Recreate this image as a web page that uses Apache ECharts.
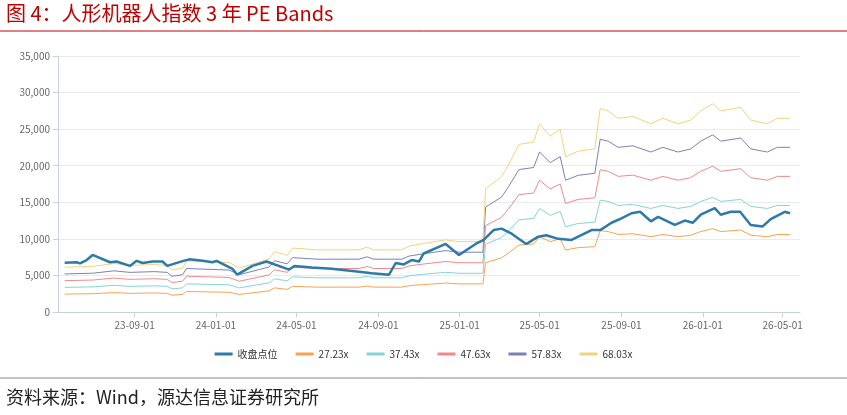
<!DOCTYPE html>
<html>
<head>
<meta charset="utf-8">
<script src="https://cdn.jsdelivr.net/npm/echarts@6/dist/echarts.min.js"></script>
<style>
  body { margin: 0; background: #fff; }
  #main { width: 847px; height: 415px; }
</style>
</head>
<body>
<div id="main"></div>
<script>
// 收盘点位 (date, value)
var closeData = [
  ['2023-05-19', 6740], ['2023-06-06', 6800], ['2023-06-11', 6650], ['2023-06-21', 7100],
  ['2023-06-30', 7800], ['2023-07-26', 6800], ['2023-08-05', 6900], ['2023-08-25', 6300],
  ['2023-09-04', 7000], ['2023-09-13', 6700], ['2023-09-28', 6900], ['2023-10-13', 6900],
  ['2023-10-20', 6300], ['2023-11-12', 6950], ['2023-11-22', 7200], ['2023-12-12', 7000],
  ['2023-12-27', 6800], ['2024-01-02', 7000], ['2024-01-26', 5900], ['2024-02-02', 5100],
  ['2024-02-25', 6300], ['2024-03-17', 6900], ['2024-04-20', 5800], ['2024-04-28', 6300],
  ['2024-05-24', 6100], ['2024-06-23', 5900], ['2024-08-03', 5500], ['2024-08-22', 5300],
  ['2024-09-17', 5100], ['2024-09-27', 6700], ['2024-10-09', 6500], ['2024-10-21', 7100],
  ['2024-11-01', 6900], ['2024-11-08', 8000], ['2024-12-11', 9300], ['2024-12-31', 7800],
  ['2025-01-25', 9300], ['2025-02-06', 9850], ['2025-02-21', 11200], ['2025-03-05', 11400],
  ['2025-03-20', 10700], ['2025-04-11', 9300], ['2025-04-29', 10300], ['2025-05-11', 10500],
  ['2025-05-29', 10000], ['2025-06-18', 9850], ['2025-06-28', 10300], ['2025-07-18', 11200],
  ['2025-07-31', 11200], ['2025-08-17', 12200], ['2025-09-01', 12800], ['2025-09-16', 13500],
  ['2025-09-29', 13700], ['2025-10-15', 12400], ['2025-10-26', 13000], ['2025-11-20', 11900],
  ['2025-12-05', 12500], ['2025-12-17', 12200], ['2025-12-29', 13300], ['2026-01-19', 14200],
  ['2026-01-28', 13300], ['2026-02-12', 13700], ['2026-02-26', 13700], ['2026-03-14', 11900],
  ['2026-04-01', 11700], ['2026-04-13', 12700], ['2026-05-04', 13700], ['2026-05-12', 13500]
];

// lowest band (27.23x); other bands share its EPS
var baseBand = [
  ['2023-05-19', 2450], ['2023-07-01', 2500], ['2023-08-01', 2650], ['2023-08-25', 2550],
  ['2023-10-01', 2600], ['2023-10-20', 2550], ['2023-10-27', 2300], ['2023-11-12', 2400],
  ['2023-11-18', 2800], ['2024-01-21', 2700], ['2024-02-05', 2400], ['2024-03-21', 2900],
  ['2024-03-29', 3300], ['2024-04-17', 3100], ['2024-04-25', 3500], ['2024-06-01', 3400],
  ['2024-08-03', 3400], ['2024-08-15', 3550], ['2024-08-25', 3400], ['2024-10-06', 3400],
  ['2024-10-17', 3600], ['2024-11-08', 3750], ['2024-12-11', 3950], ['2024-12-31', 3850],
  ['2025-02-05', 3850], ['2025-02-09', 6750], ['2025-03-05', 7400], ['2025-03-16', 8100],
  ['2025-03-31', 9170], ['2025-04-22', 9300], ['2025-05-01', 10300], ['2025-05-17', 9620],
  ['2025-06-01', 10000], ['2025-06-09', 8480], ['2025-06-28', 8800], ['2025-07-23', 8930],
  ['2025-07-31', 11120], ['2025-08-12', 11000], ['2025-08-27', 10600], ['2025-09-18', 10700],
  ['2025-10-15', 10300], ['2025-11-02', 10600], ['2025-11-25', 10300], ['2025-12-14', 10500],
  ['2025-12-29', 11000], ['2026-01-16', 11400], ['2026-01-28', 11000], ['2026-02-27', 11200],
  ['2026-03-14', 10500], ['2026-04-08', 10300], ['2026-04-23', 10600], ['2026-05-12', 10600]
];

var multiples = [27.23, 37.43, 47.63, 57.83, 68.03];
var bandNames = ['27.23x', '37.43x', '47.63x', '57.83x', '68.03x'];
var bandColors = ['#f8a24e', '#86d3d4', '#ef8a8a', '#7c80b6', '#f3d27c'];
var tickDates = ['2023-09-01', '2024-01-01', '2024-05-01', '2024-09-01', '2025-01-01',
                 '2025-05-01', '2025-09-01', '2026-01-01', '2026-05-01'];

var ts = function (s) { return Date.UTC(+s.slice(0, 4), +s.slice(5, 7) - 1, +s.slice(8, 10)); };
var tickValues = tickDates.map(ts);
var fmt = function (v) {
  var d = new Date(v);
  var p = function (n) { return (n < 10 ? '0' : '') + n; };
  return p(d.getUTCFullYear() % 100) + '-' + p(d.getUTCMonth() + 1) + '-' + p(d.getUTCDate());
};

var series = [{
  name: '收盘点位', type: 'line', showSymbol: false, z: 5,
  lineStyle: { width: 2.5, color: '#2c7aa8' }, itemStyle: { color: '#2c7aa8' },
  data: closeData.map(function (d) { return [ts(d[0]), d[1]]; })
}];
multiples.forEach(function (m, i) {
  series.push({
    name: bandNames[i], type: 'line', showSymbol: false,
    lineStyle: { width: 1, color: bandColors[i] }, itemStyle: { color: bandColors[i] },
    data: baseBand.map(function (d) { return [ts(d[0]), Math.round(d[1] * m / multiples[0])]; })
  });
});

var chart = echarts.init(document.getElementById('main'));
chart.setOption({
  animation: false,
  textStyle: { fontFamily: '"Noto Sans CJK SC", "Noto Sans", sans-serif' },
  graphic: [
    { type: 'text', left: 6, top: 3, style: { text: '图 4：人形机器人指数 3 年 PE Bands', fill: '#c00000', fontSize: 20, fontFamily: '"Noto Sans CJK SC", sans-serif' } },
    { type: 'line', shape: { x1: 0, y1: 31, x2: 847, y2: 31 }, style: { stroke: '#c00000', lineWidth: 1 } },
    { type: 'line', shape: { x1: 0, y1: 378, x2: 847, y2: 378 }, style: { stroke: '#888', lineWidth: 1 } },
    { type: 'text', left: 6, top: 388, style: { text: '资料来源：Wind，源达信息证券研究所', fill: '#222', fontSize: 18, fontFamily: '"Noto Sans CJK SC", sans-serif' } }
  ],
  legend: {
    top: 344, left: 'center', itemWidth: 18, itemHeight: 3, itemGap: 18, icon: 'rect',
    textStyle: { fontSize: 10, color: '#333' },
    data: ['收盘点位'].concat(bandNames)
  },
  grid: { left: 58, right: 47, top: 56, bottom: 103 },
  xAxis: {
    type: 'value', min: ts('2023-05-09'), max: ts('2026-05-27'),
    axisLine: { lineStyle: { color: '#c8d0e0' } },
    axisTick: { show: true, customValues: tickValues, lineStyle: { color: '#c8d0e0' } },
    axisLabel: { customValues: tickValues, color: '#666', fontSize: 10, formatter: fmt },
    splitLine: { show: false }
  },
  yAxis: {
    type: 'value', min: 0, max: 35000, interval: 5000,
    axisLine: { show: true, lineStyle: { color: '#c8d0e0' } },
    axisLabel: { color: '#666', fontSize: 10, formatter: function (v) { return v.toLocaleString('en-US'); } },
    splitLine: { lineStyle: { color: '#e8ebf0' } }
  },
  series: series
});
</script>
</body>
</html>
